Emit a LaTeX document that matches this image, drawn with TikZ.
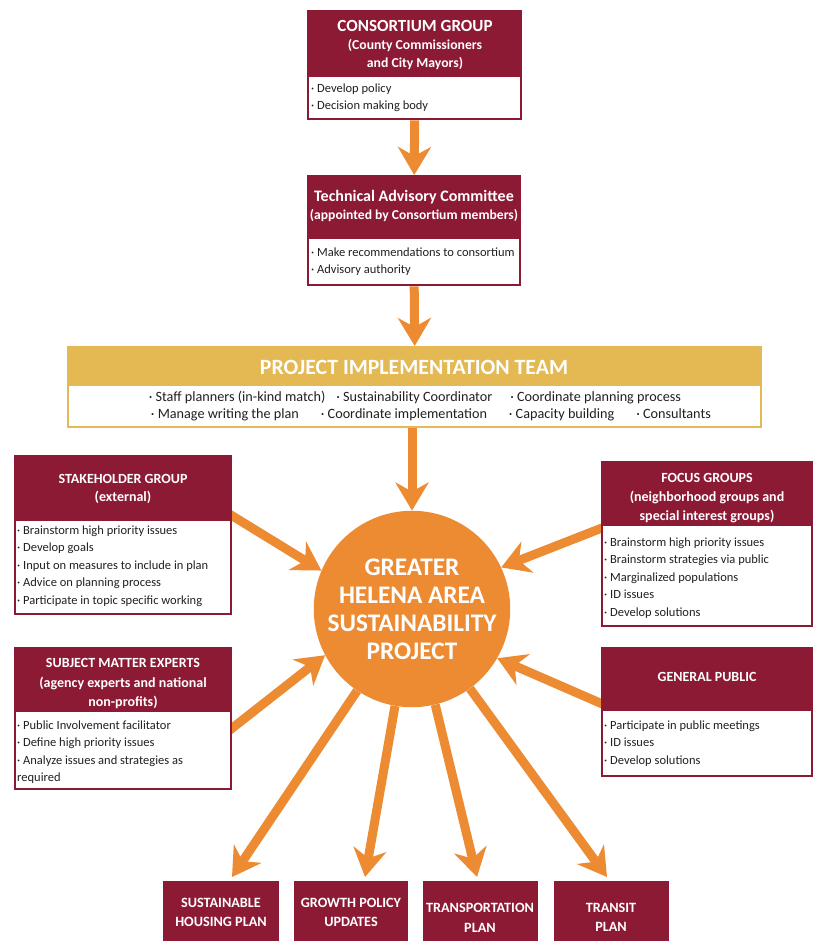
\documentclass[tikz,border=0pt]{standalone}
\usepackage{fontspec}
\setmainfont{Carlito}
\usetikzlibrary{arrows.meta}
\definecolor{hred}{RGB}{140,26,53}
\definecolor{hgold}{RGB}{228,184,82}
\definecolor{horange}{RGB}{237,139,50}
\definecolor{htext}{RGB}{35,31,32}
\pgfdeclarelayer{bg}
\pgfsetlayers{bg,main}
\begin{document}
\begin{tikzpicture}[x=1pt,y=-1pt,
  redbox/.style={fill=hred, draw=none, inner sep=0pt, anchor=north west},
  goldbox/.style={fill=hgold, draw=none, inner sep=0pt, anchor=north west},
  ttl/.style={text=white, font=\bfseries\fontsize{14}{16}\selectfont, anchor=base, inner sep=0pt},
  ptl/.style={text=white, font=\bfseries\fontsize{14.2}{16}\selectfont, anchor=base, inner sep=0pt},
  itm/.style={text=htext, font=\fontsize{12.5}{15}\selectfont, anchor=base west, inner sep=0pt},
  pitm/.style={text=htext, font=\fontsize{14.2}{16}\selectfont, anchor=base, inner sep=0pt},
  arr/.style={draw=horange, line width=9pt, -{Stealth[length=28pt,width=33pt,inset=9pt]}},
  hub/.style={circle, fill=horange, draw=none, minimum size=184pt, inner sep=0pt, text=white, align=center, font=\bfseries\fontsize{25.3}{28}\selectfont}
]
\useasboundingbox (0,0) rectangle (813,941);
\begin{pgfonlayer}{bg}
\fill[white] (0,0) rectangle (813,941);
\end{pgfonlayer}

% ---------- Consortium ----------
\node[redbox, minimum width=215pt, minimum height=110pt] (cons) at (307,10) {};
\fill[white] (309,77) rectangle (520,118);
\node[ttl, font=\bfseries\fontsize{17}{19}\selectfont] (cons-t1) at (415,32) {CONSORTIUM GROUP};
\node[ttl, font=\bfseries\fontsize{13.7}{15}\selectfont] (cons-t2) at (415,50) {(County Commissioners};
\node[ttl, font=\bfseries\fontsize{13.7}{15}\selectfont] (cons-t3) at (415,68) {and City Mayors)};
\node[itm] (cons-i1) at (311,93) {· Develop policy};
\node[itm] (cons-i2) at (311,110) {· Decision making body};

% ---------- TAC ----------
\node[redbox, minimum width=214pt, minimum height=111pt] (tac) at (307,175) {};
\fill[white] (309,239) rectangle (519,284);
\node[ttl, font=\bfseries\fontsize{16}{18}\selectfont] (tac-t1) at (414,202) {Technical Advisory Committee};
\node[ttl, font=\bfseries\fontsize{13.6}{15}\selectfont] (tac-t2) at (414,219) {(appointed by Consortium members)};
\node[itm] (tac-i1) at (311,256) {· Make recommendations to consortium};
\node[itm] (tac-i2) at (311,273) {· Advisory authority};

% ---------- PIT ----------
\node[goldbox, minimum width=695pt, minimum height=82pt] (pit) at (67,346) {};
\fill[white] (69,386) rectangle (760,426);
\node[ttl, font=\bfseries\fontsize{21.8}{23}\selectfont] (pit-t) at (414,374) {PROJECT IMPLEMENTATION TEAM};
\node[pitm] (pit-i1) at (415,401) {· Staff planners (in-kind match)\hspace{11pt}· Sustainability Coordinator\hspace{18pt}· Coordinate planning process};
\node[pitm] (pit-i2) at (431,418) {· Manage writing the plan\hspace{22pt}· Coordinate implementation\hspace{22pt}· Capacity building\hspace{22pt}· Consultants};

% ---------- Hub ----------
\node[hub] (circ) at (412,609) {GREATER\\HELENA AREA\\SUSTAINABILITY\\PROJECT};

% ---------- Stakeholder ----------
\node[redbox, minimum width=218pt, minimum height=160pt] (stk) at (14,455) {};
\fill[white] (16,521) rectangle (230,613);
\node[ttl] (stk-t1) at (123,483) {STAKEHOLDER GROUP};
\node[ttl] (stk-t2) at (123,501) {(external)};
\foreach \t [count=\i] in {Brainstorm high priority issues, Develop goals, Input on measures to include in plan, Advice on planning process, Participate in topic specific working}
  \node[itm] (stk-i\i) at (17,516.5+17.5*\i) {· \t};

% ---------- Focus ----------
\node[redbox, minimum width=212pt, minimum height=166pt] (foc) at (601,461) {};
\fill[white] (603,526) rectangle (811,625);
\node[ttl] (foc-t1) at (707,482) {FOCUS GROUPS};
\node[ttl] (foc-t2) at (707,501) {(neighborhood groups and};
\node[ttl] (foc-t3) at (707,520) {special interest groups)};
\foreach \t [count=\i] in {Brainstorm high priority issues, Brainstorm strategies via public, Marginalized populations, ID issues, Develop solutions}
  \node[itm] (foc-i\i) at (604,528.5+17.5*\i) {· \t};

% ---------- SME ----------
\node[redbox, minimum width=218pt, minimum height=143pt] (sme) at (14,647) {};
\fill[white] (16,712) rectangle (230,788);
\node[ttl] (sme-t1) at (123,667) {SUBJECT MATTER EXPERTS};
\node[ttl] (sme-t2) at (123,687) {(agency experts and national};
\node[ttl] (sme-t3) at (123,706) {non-profits)};
\node[itm] (sme-i1) at (17,729) {· Public Involvement facilitator};
\node[itm] (sme-i2) at (17,746.5) {· Define high priority issues};
\node[itm] (sme-i3) at (17,764) {· Analyze issues and strategies as};
\node[itm] (sme-i4) at (17,781.5) {required};

% ---------- General public ----------
\node[redbox, minimum width=212pt, minimum height=130pt] (pub) at (601,647) {};
\fill[white] (603,711) rectangle (811,775);
\node[ttl] (pub-t1) at (707,681) {GENERAL PUBLIC};
\node[itm] (pub-i1) at (604,729) {· Participate in public meetings};
\node[itm] (pub-i2) at (604,746.5) {· ID issues};
\node[itm] (pub-i3) at (604,764) {· Develop solutions};

% ---------- Plans ----------
\node[redbox, minimum width=116pt, minimum height=70pt] (p1) at (163,881) {};
\node[redbox, minimum width=114pt, minimum height=70pt] (p2) at (294,881) {};
\node[redbox, minimum width=115pt, minimum height=70pt] (p3) at (423,881) {};
\node[redbox, minimum width=115pt, minimum height=70pt] (p4) at (554,881) {};
\node[ptl] (p1-a) at (221,907) {SUSTAINABLE};
\node[ptl] (p1-b) at (221,926) {HOUSING PLAN};
\node[ptl] (p2-a) at (351,907) {GROWTH POLICY};
\node[ptl] (p2-b) at (351,926) {UPDATES};
\node[ptl] (p3-a) at (480,912) {TRANSPORTATION};
\node[ptl] (p3-b) at (480,932) {PLAN};
\node[ptl] (p4-a) at (611,912) {TRANSIT};
\node[ptl] (p4-b) at (611,931) {PLAN};

% ---------- Connectors ----------
\coordinate (s1) at (226,512);
\coordinate (s2) at (226,733);
\coordinate (s3) at (607,526);
\coordinate (s4) at (607,706);
\coordinate (t1) at (232,877);
\coordinate (t2) at (365,877);
\coordinate (t3) at (477,877);
\coordinate (t4) at (607,877);
\begin{pgfonlayer}{bg}
\draw[arr] (cons.south) -- (tac.north);
\draw[arr] (tac.south) -- (pit.north);
\draw[arr] (pit.south -| circ.north) -- (circ.north);
\draw[arr] (s1) -- (circ.157);
\draw[arr] (s2) -- (circ.208);
\draw[arr] (s3) -- (circ.25);
\draw[arr] (s4) -- (circ.-30);
\draw[arr] (circ) -- (t1);
\draw[arr] (circ) -- (t2);
\draw[arr] (circ) -- (t3);
\draw[arr] (circ) -- (t4);
\end{pgfonlayer}
\end{tikzpicture}
\end{document}
